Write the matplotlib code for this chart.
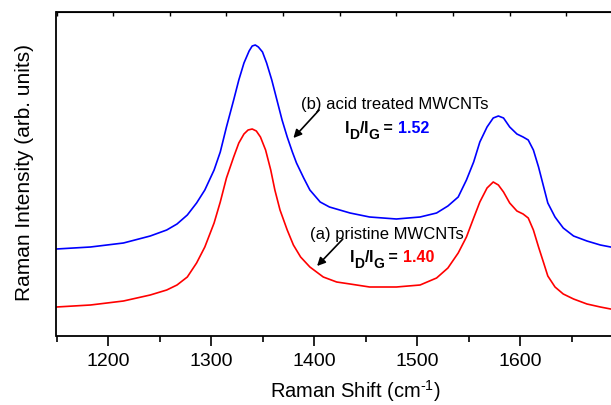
"""
Raman spectra of pristine and acid treated MWCNTs
"""
import matplotlib
matplotlib.use('Agg')  # 无GUI后端
import matplotlib.pyplot as plt
from matplotlib.transforms import offset_copy
import numpy as np

plt.rcParams['font.family'] = ['Liberation Sans', 'DejaVu Sans']
plt.rcParams['mathtext.fontset'] = 'custom'
plt.rcParams['mathtext.rm'] = 'Liberation Sans'
plt.rcParams['mathtext.bf'] = 'Liberation Sans:bold'
plt.rcParams['mathtext.it'] = 'Liberation Sans:italic'

# (b) acid treated MWCNTs
shift_b = [1150, 1183, 1215, 1241, 1257, 1267, 1277, 1286, 1294, 1303,
           1309, 1315, 1322, 1327, 1332, 1337, 1340, 1343, 1346, 1350,
           1354, 1359, 1364, 1369, 1374, 1379, 1383, 1390, 1396, 1406,
           1415, 1435, 1454, 1480, 1503, 1519, 1530, 1540, 1548, 1555,
           1561, 1568, 1574, 1579, 1584, 1590, 1597, 1603, 1608, 1613,
           1618, 1623, 1627, 1634, 1642, 1652, 1665, 1678, 1688]
inten_b = [87, 89, 93, 100, 106, 112, 121, 133, 146, 166,
           184, 209, 236, 256, 273, 285, 290, 291, 289, 284,
           273, 256, 236, 216, 199, 184, 173, 158, 146, 134,
           129, 123, 119, 117, 119, 123, 130, 139, 156, 174,
           194, 209, 218, 220, 218, 209, 202, 199, 196, 186,
           169, 149, 133, 119, 108, 100, 95, 91, 89]

# (a) pristine MWCNTs
shift_a = [1150, 1183, 1215, 1241, 1257, 1267, 1277, 1286, 1294, 1303,
           1309, 1315, 1322, 1327, 1332, 1336, 1340, 1344, 1348, 1353,
           1358, 1362, 1367, 1374, 1380, 1387, 1396, 1409, 1422, 1435,
           1454, 1480, 1503, 1519, 1530, 1540, 1548, 1555, 1561, 1568,
           1574, 1579, 1584, 1590, 1597, 1603, 1608, 1613, 1618, 1623,
           1627, 1634, 1642, 1652, 1665, 1678, 1688]
inten_a = [29, 31, 35, 41, 46, 51, 59, 73, 89, 113,
           134, 158, 179, 193, 202, 206, 207, 205, 199, 186,
           166, 146, 126, 106, 91, 79, 69, 59, 54, 52,
           49, 49, 51, 58, 68, 83, 99, 118, 134, 148,
           154, 151, 144, 133, 125, 122, 118, 106, 89, 73,
           60, 49, 42, 37, 32, 29, 27]

label_a = '(a) pristine MWCNTs'
label_b = '(b) acid treated MWCNTs'
ratio_a = '1.40'
ratio_b = '1.52'

fig = plt.figure(figsize=(6.11, 4.05), dpi=100)
ax = fig.add_axes([56.5 / 611, 69 / 405, 566.5 / 611, 324 / 405])

ax.plot(shift_b, inten_b, color='#0000ff', linewidth=1.2)
ax.plot(shift_a, inten_a, color='#ff0000', linewidth=1.2)

ax.set_xlim(1150, 1700)
ax.set_ylim(0, 324)

ax.set_xticks(np.arange(1200, 1700, 100))
ax.set_xticks(np.arange(1150, 1701, 50), minor=True)
ax.tick_params(axis='x', which='major', direction='out', length=7, width=1.2,
               labelsize=14, pad=5)
ax.tick_params(axis='x', which='minor', direction='out', length=4, width=1.2)
ax.set_yticks([])
for sp in ax.spines.values():
    sp.set_linewidth(1.3)

# top axis with its own small inward ticks
top = ax.secondary_xaxis('top')
top.set_xticks(np.arange(1150, 1700, 55))
top.tick_params(direction='in', length=3, width=1.0, labeltop=False)

ax.set_xlabel(r'Raman Shift (cm$^{\text{-1}}$)', fontsize=14.5)
ax.xaxis.set_label_coords(0.527, -0.13)
ax.set_ylabel('Raman Intensity (arb. units)', fontsize=15)
ax.yaxis.set_label_coords(-0.04, 0.506)


def ratio_label(x, y, value, color):
    """I_D/I_G = value, 下标用稍小的字号并下移"""
    renderer = fig.canvas.get_renderer()
    pieces = [('I', 11.5, 0, 'black'), ('D', 10, -4.5, 'black'),
              ('/', 11.5, 0, 'black'), ('I', 11.5, 0, 'black'),
              ('G', 10, -4.5, 'black'), (' = ', 11.5, 0, 'black'),
              (value, 11.5, 0, color)]
    dx = 0.0
    for s, size, dy, c in pieces:
        tr = offset_copy(ax.transData, fig=fig, x=dx, y=dy, units='points')
        t = ax.text(x, y, s, fontsize=size, fontweight='bold', color=c,
                    ha='left', va='baseline', transform=tr)
        dx += t.get_window_extent(renderer=renderer).width * 72 / fig.dpi


# annotations
ax.annotate('', xy=(1380, 198), xytext=(1405, 226),
            arrowprops=dict(arrowstyle='-|>', color='black', lw=1.2,
                            mutation_scale=12, shrinkA=0, shrinkB=0))
ax.text(1478, 232, label_b, fontsize=12, ha='center', va='center')
ratio_label(1430, 203, ratio_b, '#0000ff')

ax.annotate('', xy=(1403, 70), xytext=(1428, 97),
            arrowprops=dict(arrowstyle='-|>', color='black', lw=1.2,
                            mutation_scale=12, shrinkA=0, shrinkB=0))
ax.text(1471, 101, label_a, fontsize=12, ha='center', va='center')
ratio_label(1435, 74, ratio_a, '#ff0000')

plt.savefig('out.png', dpi=100)
plt.close()
